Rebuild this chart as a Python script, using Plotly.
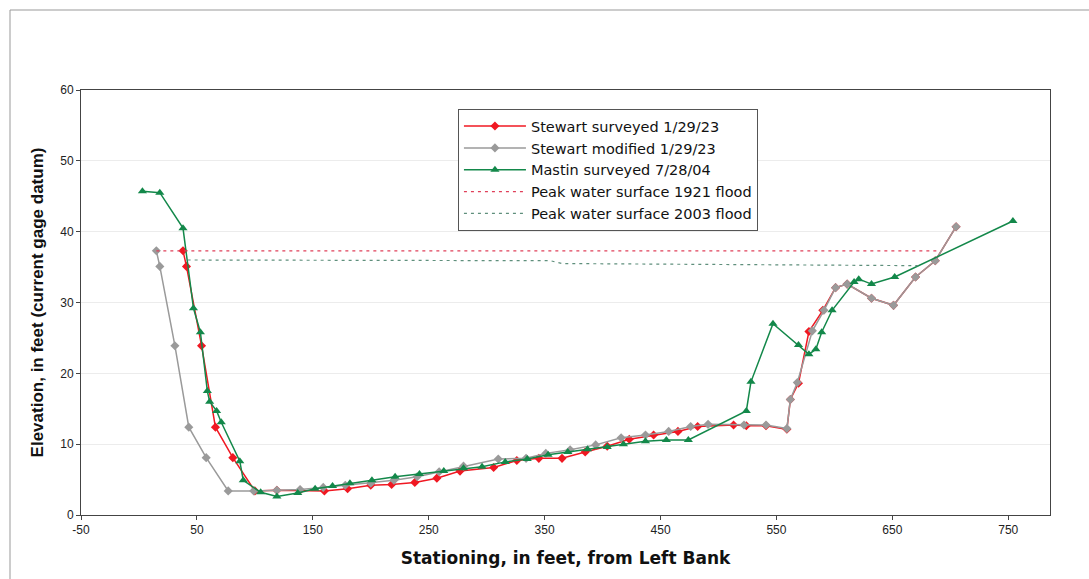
import plotly.graph_objects as go

# Stewart surveyed 1/29/23
red_x = [38, 41, 54, 66, 81, 100, 119, 139, 160, 180, 200, 218, 238, 257, 277, 306, 326, 345, 365, 385,
         404, 423, 444, 465, 482, 513, 524, 541, 559, 562, 569, 578, 590, 601, 611, 632, 651, 670, 687, 705]
red_y = [37.3, 35.1, 23.9, 12.4, 8.1, 3.4, 3.5, 3.5, 3.4, 3.7, 4.2, 4.3, 4.6, 5.2, 6.2, 6.7, 7.7, 8.0, 8.0, 8.9,
         9.7, 10.7, 11.3, 11.8, 12.5, 12.7, 12.6, 12.6, 12.1, 16.3, 18.6, 25.9, 28.9, 32.1, 32.6, 30.6, 29.6, 33.6, 35.9, 40.7]

# Stewart modified 1/29/23
grey_x = [15, 18, 31, 43, 58, 77, 99, 119, 139, 159, 178, 200, 220, 240, 259, 280, 310, 334, 351, 372,
          394, 416, 437, 457, 476, 491, 522, 541, 559, 562, 568, 581, 591, 601, 611, 632, 651, 670, 687, 705]
grey_y = [37.3, 35.1, 23.9, 12.4, 8.1, 3.4, 3.4, 3.5, 3.6, 3.9, 4.2, 4.5, 4.9, 5.4, 6.1, 6.9, 7.9, 8.0, 8.7, 9.2,
          9.9, 10.9, 11.3, 11.8, 12.5, 12.8, 12.7, 12.7, 12.2, 16.3, 18.7, 26.0, 28.9, 32.1, 32.6, 30.6, 29.6, 33.6, 35.9, 40.7]

# Mastin surveyed 7/28/04
green_x = [3, 18, 38, 47, 53, 59, 61, 67, 71, 87, 90, 105, 119, 137, 152, 167, 182, 201, 221, 242,
           263, 280, 296, 316, 335, 353, 370, 387, 404, 418, 437, 455, 474, 524, 528, 547, 569, 578, 584, 589,
           598, 617, 621, 632, 652, 754]
green_y = [45.7, 45.5, 40.5, 29.2, 25.8, 17.5, 16.0, 14.7, 13.1, 7.6, 4.9, 3.2, 2.6, 3.1, 3.7, 4.1, 4.5, 4.9, 5.4, 5.8,
           6.2, 6.6, 6.8, 7.5, 7.9, 8.5, 8.9, 9.3, 9.6, 10.0, 10.4, 10.6, 10.6, 14.7, 18.8, 27.0, 24.0, 22.7, 23.4, 25.8,
           28.9, 32.9, 33.3, 32.6, 33.6, 41.5]

# Peak water surfaces
flood1921_x = [15, 690]
flood1921_y = [37.3, 37.3]
flood2003_x = [42, 355, 365, 673]
flood2003_y = [36.0, 35.9, 35.5, 35.2]

x_ticks = [-50, 50, 150, 250, 350, 450, 550, 650, 750]
y_ticks = [0, 10, 20, 30, 40, 50, 60]

RED = "#f01822"
GREY = "#9a9a9a"
GREEN = "#13884a"

fig = go.Figure()
fig.add_trace(go.Scatter(x=red_x, y=red_y, mode="lines+markers", name="Stewart surveyed 1/29/23",
                         line=dict(color=RED, width=1.5),
                         marker=dict(symbol="diamond", size=7, color=RED)))
fig.add_trace(go.Scatter(x=grey_x, y=grey_y, mode="lines+markers", name="Stewart modified 1/29/23",
                         line=dict(color=GREY, width=1.5),
                         marker=dict(symbol="diamond", size=7, color=GREY)))
fig.add_trace(go.Scatter(x=green_x, y=green_y, mode="lines+markers", name="Mastin surveyed 7/28/04",
                         line=dict(color=GREEN, width=1.5),
                         marker=dict(symbol="triangle-up", size=8, color=GREEN)))
fig.add_trace(go.Scatter(x=flood1921_x, y=flood1921_y, mode="lines", name="Peak water surface 1921 flood",
                         line=dict(color="#e0405a", width=1.2, dash="3px,4px")))
fig.add_trace(go.Scatter(x=flood2003_x, y=flood2003_y, mode="lines", name="Peak water surface 2003 flood",
                         line=dict(color="#5f8f7c", width=1.2, dash="3px,4px")))

axis_font = dict(family="Liberation Sans, Arial, sans-serif", size=12, color="#222")
xtitle_font = dict(family="DejaVu Sans, sans-serif", size=17, color="#111")
ytitle_font = dict(family="Liberation Sans, Arial, sans-serif", size=17, color="#111")

fig.update_layout(
    width=1089, height=579,
    margin=dict(l=81, r=39, t=90, b=64),
    paper_bgcolor="white", plot_bgcolor="white",
    font=dict(family="Liberation Sans, Arial, sans-serif"),
    showlegend=True,
    legend=dict(x=0.389, y=0.955, xanchor="left", yanchor="top",
                bgcolor="white", bordercolor="#555", borderwidth=1,
                font=dict(family="DejaVu Sans, sans-serif", size=14.5, color="#111"),
                tracegroupgap=0, itemwidth=62),
    xaxis=dict(range=[-50, 786], tickvals=x_ticks, ticktext=[str(v) for v in x_ticks],
               showgrid=False, zeroline=False, showline=True, linecolor="#444", linewidth=1,
               mirror=True, ticks="outside", ticklen=4, tickcolor="#444", tickfont=axis_font,
               title=dict(text="<b>Stationing, in feet, from Left Bank</b>", font=xtitle_font, standoff=15)),
    yaxis=dict(range=[0, 60], tickvals=y_ticks, ticktext=[str(v) for v in y_ticks],
               showgrid=True, gridcolor="#ececec", gridwidth=1,
               zeroline=False, showline=True, linecolor="#444", linewidth=1,
               mirror=True, ticks="outside", ticklen=4, tickcolor="#444", tickfont=axis_font,
               title=dict(text="<b>Elevation, in feet (current gage datum)</b>", font=ytitle_font, standoff=12)),
)

# outer chart frame (top and left edges visible in the reference)
fig.add_shape(type="line", xref="paper", yref="paper",
              x0=-71 / 969, x1=1.05, y0=(579 - 10 - 64) / 425, y1=(579 - 10 - 64) / 425,
              line=dict(color="#999", width=1))
fig.add_shape(type="line", xref="paper", yref="paper",
              x0=-71 / 969, x1=-71 / 969, y0=-0.2, y1=(579 - 10 - 64) / 425,
              line=dict(color="#999", width=1))

fig.write_html("out.html")
